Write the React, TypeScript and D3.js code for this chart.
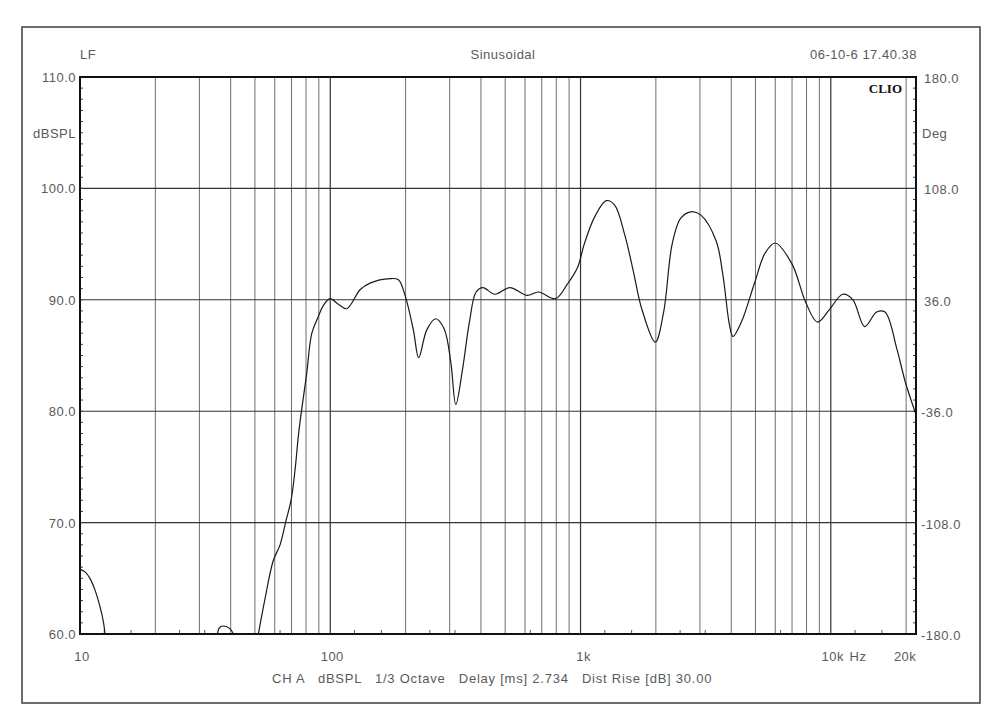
import React from "react";
import * as d3 from "d3";

// ---- data ----
const segLow1: [number, number][] = [
  [10, 65.8], [10.47, 65.58], [10.96, 64.99], [11.48, 63.94], [12.02, 62.45], [12.4, 61.1], [12.59, 60.0],
];
const segLow2: [number, number][] = [
  [35.38, 60.0], [35.94, 60.5], [36.84, 60.7], [38.58, 60.65], [40.03, 60.4], [41.01, 60.0],
];
const segMain: [number, number][] = [
  [51.6, 60.0], [54.9, 63.2], [59.2, 66.6], [63.0, 68.0], [66.6, 70.2], [69.7, 72.0], [72.3, 74.7],
  [75.0, 78.3], [80.5, 83.4], [84.4, 87.0], [89.6, 88.5], [93.9, 89.5], [99.8, 90.1], [107.7, 89.6],
  [116.4, 89.2], [131.5, 90.9], [144.2, 91.5], [173.4, 91.9], [187.2, 91.8], [199.0, 90.4],
  [214.8, 87.3], [225.6, 84.8], [243.0, 87.3], [263.6, 88.3], [285.0, 87.4], [303.1, 84.4],
  [317.4, 80.6], [337.9, 83.8], [359.7, 88.0], [382.6, 90.7], [407.4, 91.1], [454.0, 90.5],
  [522.2, 91.1], [610.2, 90.4], [679.9, 90.7], [794.5, 90.1], [885.7, 91.4], [972.8, 92.9],
  [1034.7, 95.0], [1136.5, 97.4], [1267, 98.9], [1369, 98.5], [1503, 95.8], [1624, 92.6],
  [1756, 89.2], [1989, 86.2], [2148, 88.9], [2323, 95.0], [2510, 97.3], [2754, 97.9], [3026, 97.6],
  [3480, 95.3], [3701, 92.3], [3940, 87.7], [4066, 86.7], [4392, 88.0], [4973, 91.6], [5464, 94.2],
  [5996, 95.1], [7002, 93.2], [7930, 89.8], [8843, 88.0], [9854, 89.1], [11168, 90.5], [12254, 90.0],
  [13660, 87.6], [15240, 88.9], [16470, 88.9], [18360, 85.6], [19860, 82.6], [21900, 79.7],
];
const leftTicks = [110, 100, 90, 80, 70, 60];
const rightTickLabels = ["180.0", "108.0", "36.0", "-36.0", "-108.0", "-180.0"];
const gridFreqs = [
  20, 30, 40, 50, 60, 70, 80, 90, 100, 200, 300, 400, 500, 600, 700, 800, 900, 1000,
  2000, 3000, 4000, 5000, 6000, 7000, 8000, 9000, 10000, 20000,
];
const thirdOctaveTicks = [12.5, 16, 25, 31.5, 63, 125, 160, 250, 315, 630, 1250, 1600, 2500, 3150, 6300, 12500, 16000];
const xLabels: [string, number][] = [["10", 10], ["100", 100], ["1k", 1000], ["10k", 10000], ["20k", 20000]];
const footerText = "CH A   dBSPL   1/3 Octave   Delay [ms] 2.734   Dist Rise [dB] 30.00";

const W = 1001, H = 713;
const L = 80, R = 916, T = 77, B = 634;

export default function App() {
  const x = d3.scaleLog().domain([10, 21900]).range([L, R]);
  const y = d3.scaleLinear().domain([60, 110]).range([B, T]);
  const line = d3
    .line<[number, number]>()
    .x((d) => x(d[0]))
    .y((d) => y(d[1]))
    .curve(d3.curveCatmullRom.alpha(0.5));

  const minor = d3.range(60, 111, 1);
  const font = "'Liberation Sans', Arial, sans-serif";
  const txt = "#5a5a5a";
  const labelOffsets = [2, 2, 3, 2, -1];

  return (
    <svg width={W} height={H} style={{ position: "absolute", left: 0, top: 0 }}>
      <rect x={0} y={0} width={W} height={H} fill="#fff" />
      <rect x={22} y={27} width={958} height={676} fill="#fff" stroke="#4a4a4a" strokeWidth={1.6} />
      <defs>
        <clipPath id="plotclip">
          <rect x={L} y={T} width={R - L} height={B - T} />
        </clipPath>
      </defs>
      {gridFreqs.map((f) => {
        const major = f === 100 || f === 1000 || f === 10000;
        return (
          <line key={f} x1={x(f)} x2={x(f)} y1={T} y2={B}
            stroke={major ? "#333" : "#6e6e6e"} strokeWidth={major ? 1.2 : 1} />
        );
      })}
      {leftTicks.slice(1, 5).map((v) => (
        <line key={v} x1={L} x2={R} y1={y(v)} y2={y(v)} stroke="#333" strokeWidth={1.1} />
      ))}
      {minor.map((v) => (
        <g key={v}>
          <line x1={L} x2={L + 3} y1={y(v)} y2={y(v)} stroke="#444" strokeWidth={1} />
          <line x1={R - 3} x2={R} y1={y(v)} y2={y(v)} stroke="#444" strokeWidth={1} />
        </g>
      ))}
      {thirdOctaveTicks.map((f) => (
        <line key={f} x1={x(f)} x2={x(f)} y1={B} y2={B - 4} stroke="#555" strokeWidth={1} />
      ))}
      <g clipPath="url(#plotclip)" fill="none" stroke="#1a1a1a" strokeWidth={1.2}>
        <path d={line(segLow1) || ""} />
        <path d={line(segLow2) || ""} />
        <path d={line(segMain) || ""} />
      </g>
      <rect x={L} y={T} width={R - L} height={B - T} fill="none" stroke="#111" strokeWidth={2} />
      <g fontFamily={font} fontSize={13} fill={txt} letterSpacing={0.5}>
        <text x={80} y={59}>LF</text>
        <text x={503} y={59} textAnchor="middle">Sinusoidal</text>
        <text x={917} y={59} textAnchor="end">06-10-6 17.40.38</text>
        {leftTicks.map((v) => (
          <text key={v} x={76} y={y(v) + 5} textAnchor="end">{v.toFixed(1)}</text>
        ))}
        <text x={76} y={138} textAnchor="end">dBSPL</text>
        {rightTickLabels.map((s, i) => (
          <text key={s} x={s.startsWith("-") ? 921 : 924} y={y(leftTicks[i]) + 6}>{s}</text>
        ))}
        <text x={922} y={138}>Deg</text>
        {xLabels.map(([s, f], i) => (
          <text key={s} x={x(f) + labelOffsets[i]} y={661} textAnchor="middle">{s}</text>
        ))}
        <text x={858} y={661} textAnchor="middle">Hz</text>
        <text x={272} y={683} xmlSpace="preserve" style={{ whiteSpace: "pre" }}
          textLength={440} lengthAdjust="spacing">{footerText}</text>
      </g>
      <text x={902} y={93} textAnchor="end" fontFamily="'Liberation Serif', 'Times New Roman', serif"
        fontWeight="bold" fontSize={13} fill="#111">CLIO</text>
    </svg>
  );
}
